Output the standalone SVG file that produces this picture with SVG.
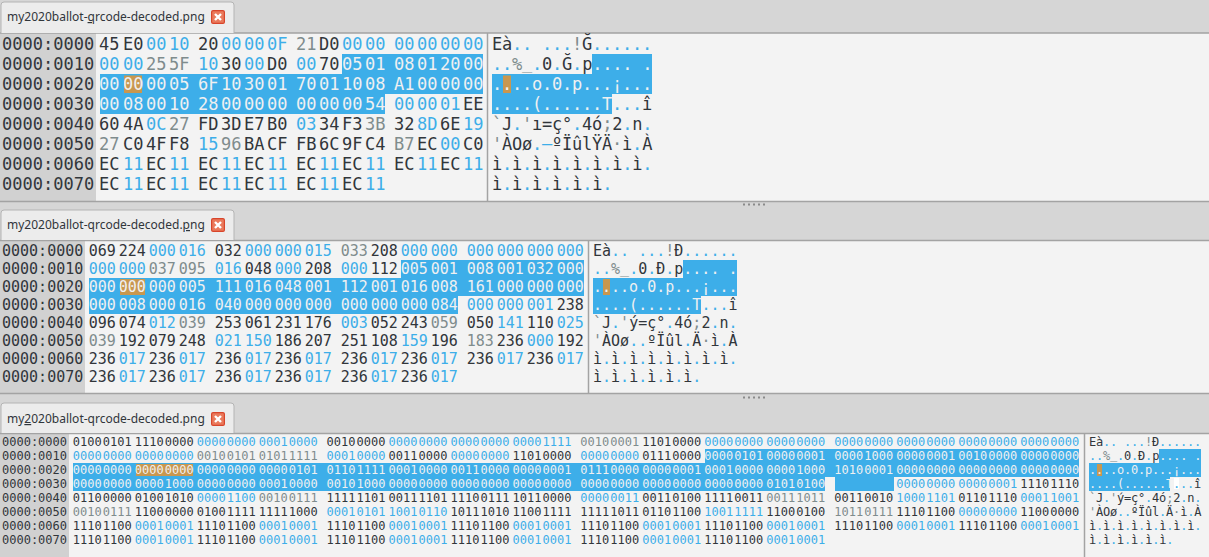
<svg xmlns="http://www.w3.org/2000/svg" width="1209" height="557" viewBox="0 0 1209 557">
<style>
text{font-family:"DejaVu Sans Mono","Liberation Mono",monospace;fill:#31363b;white-space:pre}
.p1{font-size:17px}.p2{font-size:15px}.p3{font-size:12px}
.a1{letter-spacing:-.23px}.a3{letter-spacing:-.22px}
.b{fill:#3daee9}.g{fill:#7f8c8d}.w{fill:#eff0f1}
.bg{fill:#f3f3f3}.gut{fill:#d1d1d1}.sel{fill:#3daee9}.hi{fill:#c9974f}
.ln{stroke:#a3a3a3;stroke-width:1.5;fill:none}
.tab{fill:#ececec;stroke:#b4b4b4;stroke-width:1}
.tt{font-family:"Noto Sans","Open Sans","DejaVu Sans",sans-serif;font-size:12px}
.xb{fill:#ea7a5c;stroke:#d8452b;stroke-width:1.2}
.xm{stroke:#fff;stroke-width:2.4;fill:none}
.dot{fill:#8a8a8a}
</style>
<defs>
<g id="close"><rect class="xb" x="0.6" y="0.6" width="12.8" height="12.8" rx="1.5"/><path class="xm" d="M4 4L10 10M10 4L4 10"/></g>
<g id="grip"><rect class="dot" width="2" height="2" x="0"/><rect class="dot" width="2" height="2" x="5"/><rect class="dot" width="2" height="2" x="10"/><rect class="dot" width="2" height="2" x="15"/><rect class="dot" width="2" height="2" x="20"/></g>
</defs>
<rect width="1209" height="557" fill="#d6d6d6"/>

<g id="panel-hex">
<rect class="bg" x="0" y="33" width="1209" height="168"/>
<rect class="gut" x="0" y="33" width="96" height="168"/>
<rect class="sel" x="342" y="54" width="141" height="20"/>
<rect class="sel" x="100" y="74" width="383" height="20"/>
<rect class="sel" x="100" y="94" width="285" height="20"/>
<rect class="hi" x="124" y="75.500" width="18" height="17.500"/>
<rect class="sel" x="592" y="54" width="60" height="20"/>
<rect class="sel" x="492" y="74" width="160" height="20"/>
<rect class="sel" x="492" y="94" width="120" height="20"/>
<rect class="hi" x="503" y="75.500" width="8" height="17.500"/>
<path class="ln" d="M487.500 33V201M0 201.500H1209M0 33H1209"/>
<path class="tab" d="M1 33V5Q1 2 4 2H231Q234 2 234 5V33"/>
<text class="tt" x="7" y="21">my2020ballot-<tspan text-decoration="underline">q</tspan>rcode-decoded.png</text>
<use href="#close" x="211" y="10"/>
<text class="p1" x="2" y="50">0000:0000</text><text class="p1" x="2" y="70">0000:0010</text><text class="p1" x="2" y="90">0000:0020</text><text class="p1" x="2" y="110">0000:0030</text><text class="p1" x="2" y="130">0000:0040</text><text class="p1" x="2" y="150">0000:0050</text><text class="p1" x="2" y="170">0000:0060</text><text class="p1" x="2" y="190">0000:0070</text>
<text class="p1" y="50"><tspan x="99">45</tspan><tspan x="123">E0</tspan><tspan class="b" x="146">00</tspan><tspan class="b" x="169">10</tspan><tspan x="198">20</tspan><tspan class="b" x="221">00</tspan><tspan class="b" x="244">00</tspan><tspan class="b" x="267">0F</tspan><tspan class="g" x="296">21</tspan><tspan x="319">D0</tspan><tspan class="b" x="342">00</tspan><tspan class="b" x="365">00</tspan><tspan class="b" x="394">00</tspan><tspan class="b" x="417">00</tspan><tspan class="b" x="440">00</tspan><tspan class="b" x="463">00</tspan></text>
<text class="p1" y="70"><tspan class="b" x="99">00</tspan><tspan class="b" x="123">00</tspan><tspan class="g" x="146">25</tspan><tspan class="g" x="169">5F</tspan><tspan class="b" x="198">10</tspan><tspan x="221">30</tspan><tspan class="b" x="244">00</tspan><tspan x="267">D0</tspan><tspan class="b" x="296">00</tspan><tspan x="319">70</tspan><tspan class="w" x="342">05</tspan><tspan class="w" x="365">01</tspan><tspan class="w" x="394">08</tspan><tspan class="w" x="417">01</tspan><tspan class="w" x="440">20</tspan><tspan class="w" x="463">00</tspan></text>
<text class="p1 w" y="90"><tspan class="w" x="99">00</tspan><tspan class="w" x="123">00</tspan><tspan class="w" x="146">00</tspan><tspan class="w" x="169">05</tspan><tspan class="w" x="198">6F</tspan><tspan class="w" x="221">10</tspan><tspan class="w" x="244">30</tspan><tspan class="w" x="267">01</tspan><tspan class="w" x="296">70</tspan><tspan class="w" x="319">01</tspan><tspan class="w" x="342">10</tspan><tspan class="w" x="365">08</tspan><tspan class="w" x="394">A1</tspan><tspan class="w" x="417">00</tspan><tspan class="w" x="440">00</tspan><tspan class="w" x="463">00</tspan></text>
<text class="p1" y="110"><tspan class="w" x="99">00</tspan><tspan class="w" x="123">08</tspan><tspan class="w" x="146">00</tspan><tspan class="w" x="169">10</tspan><tspan class="w" x="198">28</tspan><tspan class="w" x="221">00</tspan><tspan class="w" x="244">00</tspan><tspan class="w" x="267">00</tspan><tspan class="w" x="296">00</tspan><tspan class="w" x="319">00</tspan><tspan class="w" x="342">00</tspan><tspan class="w" x="365">54</tspan><tspan class="b" x="394">00</tspan><tspan class="b" x="417">00</tspan><tspan class="b" x="440">01</tspan><tspan x="463">EE</tspan></text>
<text class="p1" y="130"><tspan x="99">60</tspan><tspan x="123">4A</tspan><tspan class="b" x="146">0C</tspan><tspan class="g" x="169">27</tspan><tspan x="198">FD</tspan><tspan x="221">3D</tspan><tspan x="244">E7</tspan><tspan x="267">B0</tspan><tspan class="b" x="296">03</tspan><tspan x="319">34</tspan><tspan x="342">F3</tspan><tspan class="g" x="365">3B</tspan><tspan x="394">32</tspan><tspan class="b" x="417">8D</tspan><tspan x="440">6E</tspan><tspan class="b" x="463">19</tspan></text>
<text class="p1" y="150"><tspan class="g" x="99">27</tspan><tspan x="123">C0</tspan><tspan x="146">4F</tspan><tspan x="169">F8</tspan><tspan class="b" x="198">15</tspan><tspan class="g" x="221">96</tspan><tspan x="244">BA</tspan><tspan x="267">CF</tspan><tspan x="296">FB</tspan><tspan x="319">6C</tspan><tspan x="342">9F</tspan><tspan x="365">C4</tspan><tspan class="g" x="394">B7</tspan><tspan x="417">EC</tspan><tspan class="b" x="440">00</tspan><tspan x="463">C0</tspan></text>
<text class="p1" y="170"><tspan x="99">EC</tspan><tspan class="b" x="123">11</tspan><tspan x="146">EC</tspan><tspan class="b" x="169">11</tspan><tspan x="198">EC</tspan><tspan class="b" x="221">11</tspan><tspan x="244">EC</tspan><tspan class="b" x="267">11</tspan><tspan x="296">EC</tspan><tspan class="b" x="319">11</tspan><tspan x="342">EC</tspan><tspan class="b" x="365">11</tspan><tspan x="394">EC</tspan><tspan class="b" x="417">11</tspan><tspan x="440">EC</tspan><tspan class="b" x="463">11</tspan></text>
<text class="p1" y="190"><tspan x="99">EC</tspan><tspan class="b" x="123">11</tspan><tspan x="146">EC</tspan><tspan class="b" x="169">11</tspan><tspan x="198">EC</tspan><tspan class="b" x="221">11</tspan><tspan x="244">EC</tspan><tspan class="b" x="267">11</tspan><tspan x="296">EC</tspan><tspan class="b" x="319">11</tspan><tspan x="342">EC</tspan><tspan class="b" x="365">11</tspan></text>
<text class="p1 a1" x="492" y="50">Eà<tspan class="b">.. ...</tspan><tspan class="g">!</tspan>Ğ<tspan class="b">......</tspan></text>
<text class="p1 a1" x="492" y="70"><tspan class="b">..</tspan><tspan class="g">%<tspan dy="-1.300">_</tspan></tspan><tspan class="b" dy="1.300">.</tspan>0<tspan class="b">.</tspan>Ğ<tspan class="b">.</tspan>p<tspan class="w">.... .</tspan></text>
<text class="p1 a1 w" x="492" y="90">....o.0.p...¡...</text>
<text class="p1 a1" x="492" y="110"><tspan class="w">....(......T</tspan><tspan class="b">...</tspan>î</text>
<text class="p1 a1" x="492" y="130"><tspan class="g">`</tspan>J<tspan class="b">.</tspan><tspan class="g">'</tspan>ı=ç°<tspan class="b">.</tspan>4ó<tspan class="g">;</tspan>2<tspan class="b">.</tspan>n<tspan class="b">.</tspan></text>
<text class="p1 a1" x="492" y="150"><tspan class="g">'</tspan>ÀOø<tspan class="b">.–</tspan>ºÏûlŸÄ<tspan class="g">·</tspan>ì<tspan class="b">.</tspan>À</text>
<text class="p1 a1" x="492" y="170">ì<tspan class="b">.</tspan>ì<tspan class="b">.</tspan>ì<tspan class="b">.</tspan>ì<tspan class="b">.</tspan>ì<tspan class="b">.</tspan>ì<tspan class="b">.</tspan>ì<tspan class="b">.</tspan>ì<tspan class="b">.</tspan></text>
<text class="p1 a1" x="492" y="190">ì<tspan class="b">.</tspan>ì<tspan class="b">.</tspan>ì<tspan class="b">.</tspan>ì<tspan class="b">.</tspan>ì<tspan class="b">.</tspan>ì<tspan class="b">.</tspan></text>
</g>
<use href="#grip" x="743" y="203.500"/>

<g id="panel-dec">
<rect class="bg" x="0" y="240" width="1209" height="153"/>
<rect class="gut" x="0" y="240" width="85" height="153"/>
<rect class="sel" x="401" y="260" width="183" height="18"/>
<rect class="sel" x="89" y="278" width="495" height="18"/>
<rect class="sel" x="89" y="296" width="369" height="18"/>
<rect class="hi" x="120" y="279" width="25" height="16"/>
<rect class="sel" x="683" y="260" width="54" height="18"/>
<rect class="sel" x="593" y="278" width="144" height="18"/>
<rect class="sel" x="593" y="296" width="108" height="18"/>
<rect class="hi" x="603" y="279" width="7" height="16"/>
<path class="ln" d="M588.500 240V393M0 393.500H1209M0 240.500H1209"/>
<path class="tab" d="M1 240V213Q1 210 4 210H231Q234 210 234 213V240"/>
<text class="tt" x="7" y="229">my2020ballot-qrcode-decoded.<tspan text-decoration="underline">p</tspan>ng</text>
<use href="#close" x="211" y="218"/>
<text class="p2" x="2" y="256">0000:0000</text><text class="p2" x="2" y="274">0000:0010</text><text class="p2" x="2" y="292">0000:0020</text><text class="p2" x="2" y="310">0000:0030</text><text class="p2" x="2" y="328">0000:0040</text><text class="p2" x="2" y="346">0000:0050</text><text class="p2" x="2" y="364">0000:0060</text><text class="p2" x="2" y="382">0000:0070</text>
<text class="p2" y="256"><tspan x="88.800">069</tspan><tspan x="118.800">224</tspan><tspan class="b" x="148.800">000</tspan><tspan class="b" x="178.800">016</tspan><tspan x="214.800">032</tspan><tspan class="b" x="244.800">000</tspan><tspan class="b" x="274.800">000</tspan><tspan class="b" x="304.800">015</tspan><tspan class="g" x="340.800">033</tspan><tspan x="370.800">208</tspan><tspan class="b" x="400.800">000</tspan><tspan class="b" x="430.800">000</tspan><tspan class="b" x="466.800">000</tspan><tspan class="b" x="496.800">000</tspan><tspan class="b" x="526.800">000</tspan><tspan class="b" x="556.800">000</tspan></text>
<text class="p2" y="274"><tspan class="b" x="88.800">000</tspan><tspan class="b" x="118.800">000</tspan><tspan class="g" x="148.800">037</tspan><tspan class="g" x="178.800">095</tspan><tspan class="b" x="214.800">016</tspan><tspan x="244.800">048</tspan><tspan class="b" x="274.800">000</tspan><tspan x="304.800">208</tspan><tspan class="b" x="340.800">000</tspan><tspan x="370.800">112</tspan><tspan class="w" x="400.800">005</tspan><tspan class="w" x="430.800">001</tspan><tspan class="w" x="466.800">008</tspan><tspan class="w" x="496.800">001</tspan><tspan class="w" x="526.800">032</tspan><tspan class="w" x="556.800">000</tspan></text>
<text class="p2" y="292"><tspan class="w" x="88.800">000</tspan><tspan class="w" x="118.800">000</tspan><tspan class="w" x="148.800">000</tspan><tspan class="w" x="178.800">005</tspan><tspan class="w" x="214.800">111</tspan><tspan class="w" x="244.800">016</tspan><tspan class="w" x="274.800">048</tspan><tspan class="w" x="304.800">001</tspan><tspan class="w" x="340.800">112</tspan><tspan class="w" x="370.800">001</tspan><tspan class="w" x="400.800">016</tspan><tspan class="w" x="430.800">008</tspan><tspan class="w" x="466.800">161</tspan><tspan class="w" x="496.800">000</tspan><tspan class="w" x="526.800">000</tspan><tspan class="w" x="556.800">000</tspan></text>
<text class="p2" y="310"><tspan class="w" x="88.800">000</tspan><tspan class="w" x="118.800">008</tspan><tspan class="w" x="148.800">000</tspan><tspan class="w" x="178.800">016</tspan><tspan class="w" x="214.800">040</tspan><tspan class="w" x="244.800">000</tspan><tspan class="w" x="274.800">000</tspan><tspan class="w" x="304.800">000</tspan><tspan class="w" x="340.800">000</tspan><tspan class="w" x="370.800">000</tspan><tspan class="w" x="400.800">000</tspan><tspan class="w" x="430.800">084</tspan><tspan class="b" x="466.800">000</tspan><tspan class="b" x="496.800">000</tspan><tspan class="b" x="526.800">001</tspan><tspan x="556.800">238</tspan></text>
<text class="p2" y="328"><tspan x="88.800">096</tspan><tspan x="118.800">074</tspan><tspan class="b" x="148.800">012</tspan><tspan class="g" x="178.800">039</tspan><tspan x="214.800">253</tspan><tspan x="244.800">061</tspan><tspan x="274.800">231</tspan><tspan x="304.800">176</tspan><tspan class="b" x="340.800">003</tspan><tspan x="370.800">052</tspan><tspan x="400.800">243</tspan><tspan class="g" x="430.800">059</tspan><tspan x="466.800">050</tspan><tspan class="b" x="496.800">141</tspan><tspan x="526.800">110</tspan><tspan class="b" x="556.800">025</tspan></text>
<text class="p2" y="346"><tspan class="g" x="88.800">039</tspan><tspan x="118.800">192</tspan><tspan x="148.800">079</tspan><tspan x="178.800">248</tspan><tspan class="b" x="214.800">021</tspan><tspan class="b" x="244.800">150</tspan><tspan x="274.800">186</tspan><tspan x="304.800">207</tspan><tspan x="340.800">251</tspan><tspan x="370.800">108</tspan><tspan class="b" x="400.800">159</tspan><tspan x="430.800">196</tspan><tspan class="g" x="466.800">183</tspan><tspan x="496.800">236</tspan><tspan class="b" x="526.800">000</tspan><tspan x="556.800">192</tspan></text>
<text class="p2" y="364"><tspan x="88.800">236</tspan><tspan class="b" x="118.800">017</tspan><tspan x="148.800">236</tspan><tspan class="b" x="178.800">017</tspan><tspan x="214.800">236</tspan><tspan class="b" x="244.800">017</tspan><tspan x="274.800">236</tspan><tspan class="b" x="304.800">017</tspan><tspan x="340.800">236</tspan><tspan class="b" x="370.800">017</tspan><tspan x="400.800">236</tspan><tspan class="b" x="430.800">017</tspan><tspan x="466.800">236</tspan><tspan class="b" x="496.800">017</tspan><tspan x="526.800">236</tspan><tspan class="b" x="556.800">017</tspan></text>
<text class="p2" y="382"><tspan x="88.800">236</tspan><tspan class="b" x="118.800">017</tspan><tspan x="148.800">236</tspan><tspan class="b" x="178.800">017</tspan><tspan x="214.800">236</tspan><tspan class="b" x="244.800">017</tspan><tspan x="274.800">236</tspan><tspan class="b" x="304.800">017</tspan><tspan x="340.800">236</tspan><tspan class="b" x="370.800">017</tspan><tspan x="400.800">236</tspan><tspan class="b" x="430.800">017</tspan></text>
<text class="p2" x="593" y="256">Eà<tspan class="b">.. ...</tspan><tspan class="g">!</tspan>Ð<tspan class="b">......</tspan></text>
<text class="p2" x="593" y="274"><tspan class="b">..</tspan><tspan class="g">%<tspan dy="-0.800">_</tspan></tspan><tspan class="b" dy="0.800">.</tspan>0<tspan class="b">.</tspan>Ð<tspan class="b">.</tspan>p<tspan class="w">.... .</tspan></text>
<text class="p2 w" x="593" y="292">....o.0.p...¡...</text>
<text class="p2" x="593" y="310"><tspan class="w">....(......T</tspan><tspan class="b">...</tspan>î</text>
<text class="p2" x="593" y="328"><tspan class="g">`</tspan>J<tspan class="b">.</tspan><tspan class="g">'</tspan>ý=ç°<tspan class="b">.</tspan>4ó<tspan class="g">;</tspan>2<tspan class="b">.</tspan>n<tspan class="b">.</tspan></text>
<text class="p2" x="593" y="346"><tspan class="g">'</tspan>ÀOø<tspan class="b">..</tspan>ºÏûl<tspan class="b">.</tspan>Ä<tspan class="g">·</tspan>ì<tspan class="b">.</tspan>À</text>
<text class="p2" x="593" y="364">ì<tspan class="b">.</tspan>ì<tspan class="b">.</tspan>ì<tspan class="b">.</tspan>ì<tspan class="b">.</tspan>ì<tspan class="b">.</tspan>ì<tspan class="b">.</tspan>ì<tspan class="b">.</tspan>ì<tspan class="b">.</tspan></text>
<text class="p2" x="593" y="382">ì<tspan class="b">.</tspan>ì<tspan class="b">.</tspan>ì<tspan class="b">.</tspan>ì<tspan class="b">.</tspan>ì<tspan class="b">.</tspan>ì<tspan class="b">.</tspan></text>
</g>
<use href="#grip" x="743" y="396.500"/>

<g id="panel-bin">
<rect class="bg" x="0" y="434" width="1209" height="123"/>
<rect class="gut" x="0" y="434" width="69" height="123"/>
<rect class="sel" x="705" y="449" width="374" height="14"/>
<rect class="sel" x="73" y="463" width="1006" height="14"/>
<rect class="sel" x="73" y="477" width="752" height="14"/>
<rect class="sel" x="835" y="477" width="59" height="14"/>
<rect class="hi" x="136" y="464" width="57" height="12"/>
<rect class="sel" x="1159" y="449" width="42" height="14"/>
<rect class="sel" x="1089" y="463" width="112" height="14"/>
<rect class="sel" x="1089" y="477" width="81" height="14"/>
<rect class="hi" x="1097" y="464" width="5" height="12"/>
<rect x="1174" y="478" width="5" height="11" fill="#fff"/>
<path class="ln" d="M1084.500 434V557M0 433.500H1209"/>
<path class="tab" d="M1 433V406Q1 403 4 403H231Q234 403 234 406V433"/>
<text class="tt" x="7" y="423">my<tspan text-decoration="underline">2</tspan>020ballot-qrcode-decoded.png</text>
<use href="#close" x="211" y="412"/>
<text class="p3" x="2" y="446">0000:0000</text><text class="p3" x="2" y="460">0000:0010</text><text class="p3" x="2" y="474">0000:0020</text><text class="p3" x="2" y="488">0000:0030</text><text class="p3" x="2" y="502">0000:0040</text><text class="p3" x="2" y="516">0000:0050</text><text class="p3" x="2" y="530">0000:0060</text><text class="p3" x="2" y="544">0000:0070</text>
<text class="p3" y="446"><tspan x="72.700" dx="0 0 0 0 1.100">01000101</tspan><tspan x="134.700" dx="0 0 0 0 1.100">11100000</tspan><tspan class="b" x="196.700" dx="0 0 0 0 1.100">00000000</tspan><tspan class="b" x="258.700" dx="0 0 0 0 1.100">00010000</tspan><tspan x="326.500" dx="0 0 0 0 1.100">00100000</tspan><tspan class="b" x="388.500" dx="0 0 0 0 1.100">00000000</tspan><tspan class="b" x="450.500" dx="0 0 0 0 1.100">00000000</tspan><tspan class="b" x="512.500" dx="0 0 0 0 1.100">00001111</tspan><tspan class="g" x="580.300" dx="0 0 0 0 1.100">00100001</tspan><tspan x="642.300" dx="0 0 0 0 1.100">11010000</tspan><tspan class="b" x="704.300" dx="0 0 0 0 1.100">00000000</tspan><tspan class="b" x="766.300" dx="0 0 0 0 1.100">00000000</tspan><tspan class="b" x="834.300" dx="0 0 0 0 1.100">00000000</tspan><tspan class="b" x="896.300" dx="0 0 0 0 1.100">00000000</tspan><tspan class="b" x="958.300" dx="0 0 0 0 1.100">00000000</tspan><tspan class="b" x="1020.300" dx="0 0 0 0 1.100">00000000</tspan></text>
<text class="p3" y="460"><tspan class="b" x="72.700" dx="0 0 0 0 1.100">00000000</tspan><tspan class="b" x="134.700" dx="0 0 0 0 1.100">00000000</tspan><tspan class="g" x="196.700" dx="0 0 0 0 1.100">00100101</tspan><tspan class="g" x="258.700" dx="0 0 0 0 1.100">01011111</tspan><tspan class="b" x="326.500" dx="0 0 0 0 1.100">00010000</tspan><tspan x="388.500" dx="0 0 0 0 1.100">00110000</tspan><tspan class="b" x="450.500" dx="0 0 0 0 1.100">00000000</tspan><tspan x="512.500" dx="0 0 0 0 1.100">11010000</tspan><tspan class="b" x="580.300" dx="0 0 0 0 1.100">00000000</tspan><tspan x="642.300" dx="0 0 0 0 1.100">01110000</tspan><tspan class="w" x="704.300" dx="0 0 0 0 1.100">00000101</tspan><tspan class="w" x="766.300" dx="0 0 0 0 1.100">00000001</tspan><tspan class="w" x="834.300" dx="0 0 0 0 1.100">00001000</tspan><tspan class="w" x="896.300" dx="0 0 0 0 1.100">00000001</tspan><tspan class="w" x="958.300" dx="0 0 0 0 1.100">00100000</tspan><tspan class="w" x="1020.300" dx="0 0 0 0 1.100">00000000</tspan></text>
<text class="p3 w" y="474"><tspan class="w" x="72.700" dx="0 0 0 0 1.100">00000000</tspan><tspan class="w" x="134.700" dx="0 0 0 0 1.100">00000000</tspan><tspan class="w" x="196.700" dx="0 0 0 0 1.100">00000000</tspan><tspan class="w" x="258.700" dx="0 0 0 0 1.100">00000101</tspan><tspan class="w" x="326.500" dx="0 0 0 0 1.100">01101111</tspan><tspan class="w" x="388.500" dx="0 0 0 0 1.100">00010000</tspan><tspan class="w" x="450.500" dx="0 0 0 0 1.100">00110000</tspan><tspan class="w" x="512.500" dx="0 0 0 0 1.100">00000001</tspan><tspan class="w" x="580.300" dx="0 0 0 0 1.100">01110000</tspan><tspan class="w" x="642.300" dx="0 0 0 0 1.100">00000001</tspan><tspan class="w" x="704.300" dx="0 0 0 0 1.100">00010000</tspan><tspan class="w" x="766.300" dx="0 0 0 0 1.100">00001000</tspan><tspan class="w" x="834.300" dx="0 0 0 0 1.100">10100001</tspan><tspan class="w" x="896.300" dx="0 0 0 0 1.100">00000000</tspan><tspan class="w" x="958.300" dx="0 0 0 0 1.100">00000000</tspan><tspan class="w" x="1020.300" dx="0 0 0 0 1.100">00000000</tspan></text>
<text class="p3" y="488"><tspan class="w" x="72.700" dx="0 0 0 0 1.100">00000000</tspan><tspan class="w" x="134.700" dx="0 0 0 0 1.100">00001000</tspan><tspan class="w" x="196.700" dx="0 0 0 0 1.100">00000000</tspan><tspan class="w" x="258.700" dx="0 0 0 0 1.100">00010000</tspan><tspan class="w" x="326.500" dx="0 0 0 0 1.100">00101000</tspan><tspan class="w" x="388.500" dx="0 0 0 0 1.100">00000000</tspan><tspan class="w" x="450.500" dx="0 0 0 0 1.100">00000000</tspan><tspan class="w" x="512.500" dx="0 0 0 0 1.100">00000000</tspan><tspan class="w" x="580.300" dx="0 0 0 0 1.100">00000000</tspan><tspan class="w" x="642.300" dx="0 0 0 0 1.100">00000000</tspan><tspan class="w" x="704.300" dx="0 0 0 0 1.100">00000000</tspan><tspan class="w" x="766.300" dx="0 0 0 0 1.100">01010100</tspan><tspan class="b" x="896.300" dx="0 0 0 0 1.100">00000000</tspan><tspan class="b" x="958.300" dx="0 0 0 0 1.100">00000001</tspan><tspan x="1020.300" dx="0 0 0 0 1.100">11101110</tspan></text>
<text class="p3" y="502"><tspan x="72.700" dx="0 0 0 0 1.100">01100000</tspan><tspan x="134.700" dx="0 0 0 0 1.100">01001010</tspan><tspan class="b" x="196.700" dx="0 0 0 0 1.100">00001100</tspan><tspan class="g" x="258.700" dx="0 0 0 0 1.100">00100111</tspan><tspan x="326.500" dx="0 0 0 0 1.100">11111101</tspan><tspan x="388.500" dx="0 0 0 0 1.100">00111101</tspan><tspan x="450.500" dx="0 0 0 0 1.100">11100111</tspan><tspan x="512.500" dx="0 0 0 0 1.100">10110000</tspan><tspan class="b" x="580.300" dx="0 0 0 0 1.100">00000011</tspan><tspan x="642.300" dx="0 0 0 0 1.100">00110100</tspan><tspan x="704.300" dx="0 0 0 0 1.100">11110011</tspan><tspan class="g" x="766.300" dx="0 0 0 0 1.100">00111011</tspan><tspan x="834.300" dx="0 0 0 0 1.100">00110010</tspan><tspan class="b" x="896.300" dx="0 0 0 0 1.100">10001101</tspan><tspan x="958.300" dx="0 0 0 0 1.100">01101110</tspan><tspan class="b" x="1020.300" dx="0 0 0 0 1.100">00011001</tspan></text>
<text class="p3" y="516"><tspan class="g" x="72.700" dx="0 0 0 0 1.100">00100111</tspan><tspan x="134.700" dx="0 0 0 0 1.100">11000000</tspan><tspan x="196.700" dx="0 0 0 0 1.100">01001111</tspan><tspan x="258.700" dx="0 0 0 0 1.100">11111000</tspan><tspan class="b" x="326.500" dx="0 0 0 0 1.100">00010101</tspan><tspan class="b" x="388.500" dx="0 0 0 0 1.100">10010110</tspan><tspan x="450.500" dx="0 0 0 0 1.100">10111010</tspan><tspan x="512.500" dx="0 0 0 0 1.100">11001111</tspan><tspan x="580.300" dx="0 0 0 0 1.100">11111011</tspan><tspan x="642.300" dx="0 0 0 0 1.100">01101100</tspan><tspan class="b" x="704.300" dx="0 0 0 0 1.100">10011111</tspan><tspan x="766.300" dx="0 0 0 0 1.100">11000100</tspan><tspan class="g" x="834.300" dx="0 0 0 0 1.100">10110111</tspan><tspan x="896.300" dx="0 0 0 0 1.100">11101100</tspan><tspan class="b" x="958.300" dx="0 0 0 0 1.100">00000000</tspan><tspan x="1020.300" dx="0 0 0 0 1.100">11000000</tspan></text>
<text class="p3" y="530"><tspan x="72.700" dx="0 0 0 0 1.100">11101100</tspan><tspan class="b" x="134.700" dx="0 0 0 0 1.100">00010001</tspan><tspan x="196.700" dx="0 0 0 0 1.100">11101100</tspan><tspan class="b" x="258.700" dx="0 0 0 0 1.100">00010001</tspan><tspan x="326.500" dx="0 0 0 0 1.100">11101100</tspan><tspan class="b" x="388.500" dx="0 0 0 0 1.100">00010001</tspan><tspan x="450.500" dx="0 0 0 0 1.100">11101100</tspan><tspan class="b" x="512.500" dx="0 0 0 0 1.100">00010001</tspan><tspan x="580.300" dx="0 0 0 0 1.100">11101100</tspan><tspan class="b" x="642.300" dx="0 0 0 0 1.100">00010001</tspan><tspan x="704.300" dx="0 0 0 0 1.100">11101100</tspan><tspan class="b" x="766.300" dx="0 0 0 0 1.100">00010001</tspan><tspan x="834.300" dx="0 0 0 0 1.100">11101100</tspan><tspan class="b" x="896.300" dx="0 0 0 0 1.100">00010001</tspan><tspan x="958.300" dx="0 0 0 0 1.100">11101100</tspan><tspan class="b" x="1020.300" dx="0 0 0 0 1.100">00010001</tspan></text>
<text class="p3" y="544"><tspan x="72.700" dx="0 0 0 0 1.100">11101100</tspan><tspan class="b" x="134.700" dx="0 0 0 0 1.100">00010001</tspan><tspan x="196.700" dx="0 0 0 0 1.100">11101100</tspan><tspan class="b" x="258.700" dx="0 0 0 0 1.100">00010001</tspan><tspan x="326.500" dx="0 0 0 0 1.100">11101100</tspan><tspan class="b" x="388.500" dx="0 0 0 0 1.100">00010001</tspan><tspan x="450.500" dx="0 0 0 0 1.100">11101100</tspan><tspan class="b" x="512.500" dx="0 0 0 0 1.100">00010001</tspan><tspan x="580.300" dx="0 0 0 0 1.100">11101100</tspan><tspan class="b" x="642.300" dx="0 0 0 0 1.100">00010001</tspan><tspan x="704.300" dx="0 0 0 0 1.100">11101100</tspan><tspan class="b" x="766.300" dx="0 0 0 0 1.100">00010001</tspan></text>
<text class="p3 a3" x="1089" y="446">Eà<tspan class="b">.. ...</tspan><tspan class="g">!</tspan>Ð<tspan class="b">......</tspan></text>
<text class="p3 a3" x="1089" y="460"><tspan class="b">..</tspan><tspan class="g">%<tspan dy="-1">_</tspan></tspan><tspan class="b" dy="1">.</tspan>0<tspan class="b">.</tspan>Ð<tspan class="b">.</tspan>p<tspan class="w">.... .</tspan></text>
<text class="p3 a3 w" x="1089" y="474">....o.0.p...¡...</text>
<text class="p3 a3" x="1089" y="488"><tspan class="w">....(......T</tspan><tspan class="b">...</tspan>î</text>
<text class="p3 a3" x="1089" y="502"><tspan class="g">`</tspan>J<tspan class="b">.</tspan><tspan class="g">'</tspan>ý=ç°<tspan class="b">.</tspan>4ó<tspan class="g">;</tspan>2<tspan class="b">.</tspan>n<tspan class="b">.</tspan></text>
<text class="p3 a3" x="1089" y="516"><tspan class="g">'</tspan>ÀOø<tspan class="b">..</tspan>ºÏûl<tspan class="b">.</tspan>Ä<tspan class="g">·</tspan>ì<tspan class="b">.</tspan>À</text>
<text class="p3 a3" x="1089" y="530">ì<tspan class="b">.</tspan>ì<tspan class="b">.</tspan>ì<tspan class="b">.</tspan>ì<tspan class="b">.</tspan>ì<tspan class="b">.</tspan>ì<tspan class="b">.</tspan>ì<tspan class="b">.</tspan>ì<tspan class="b">.</tspan></text>
<text class="p3 a3" x="1089" y="544">ì<tspan class="b">.</tspan>ì<tspan class="b">.</tspan>ì<tspan class="b">.</tspan>ì<tspan class="b">.</tspan>ì<tspan class="b">.</tspan>ì<tspan class="b">.</tspan></text>
</g>
</svg>
